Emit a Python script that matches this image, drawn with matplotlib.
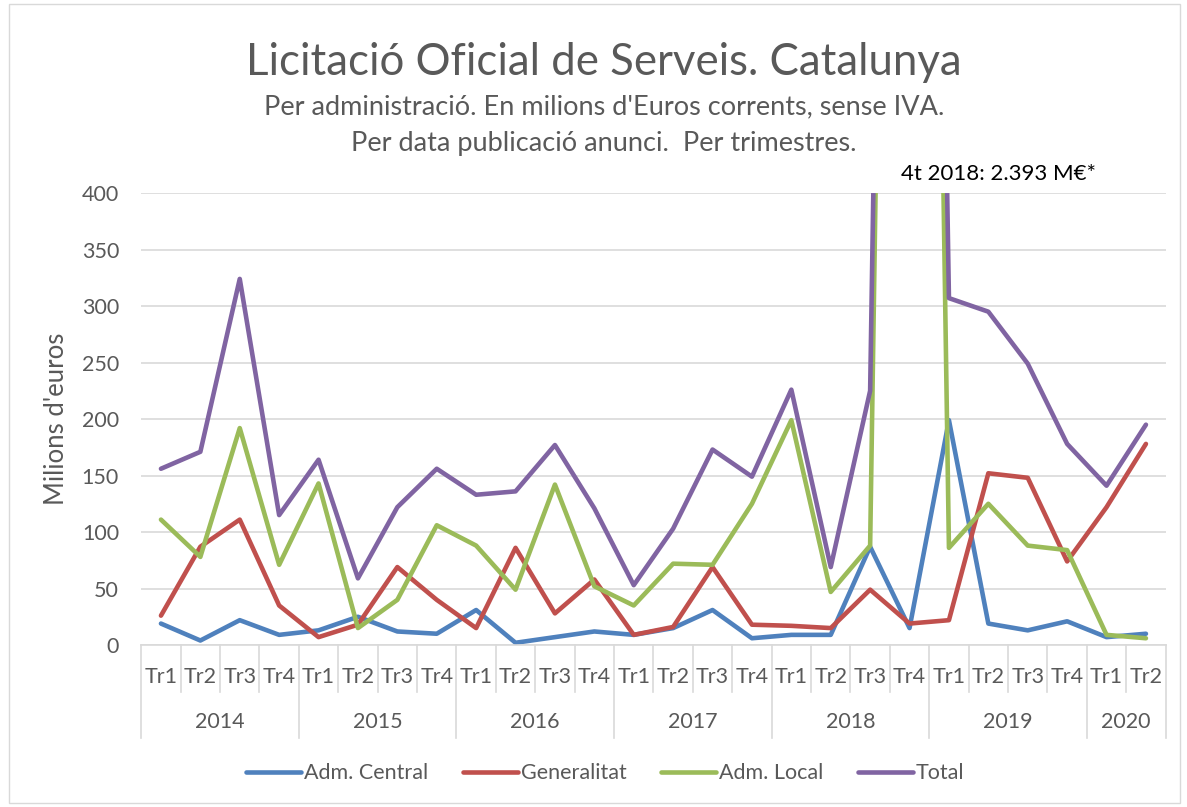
import numpy as np
import matplotlib
matplotlib.use('Agg')
import matplotlib.pyplot as plt
from matplotlib.patches import Rectangle

plt.rcParams['font.family'] = ['Lato', 'DejaVu Sans']

years = ['2014', '2015', '2016', '2017', '2018', '2019', '2020']
quarters_per_year = [4, 4, 4, 4, 4, 4, 2]
quarter_labels = ['Tr1', 'Tr2', 'Tr3', 'Tr4'] * 6 + ['Tr1', 'Tr2']

central = [19, 4, 22, 9, 13, 25, 12, 10, 31, 2, 7, 12, 9, 15, 31, 6,
           9, 9, 87, 15, 199, 19, 13, 21, 7, 10]
generalitat = [26, 87, 111, 35, 7, 18, 69, 40, 15, 86, 28, 58, 9, 16, 69, 18,
               17, 15, 49, 19, 22, 152, 148, 74, 122, 178]
local = [111, 78, 192, 71, 143, 15, 40, 106, 88, 49, 142, 52, 35, 72, 71, 125,
         199, 47, 88, 2360, 86, 125, 88, 84, 9, 6]
total = [156, 171, 324, 115, 164, 59, 122, 156, 133, 136, 177, 121, 53, 103, 173, 149,
         226, 69, 225, 2393, 307, 295, 249, 178, 141, 195]

series = [('Adm. Central', central, '#4F81BD'),
          ('Generalitat', generalitat, '#C0504D'),
          ('Adm. Local', local, '#9BBB59'),
          ('Total', total, '#8064A2')]

grey = '#595959'
grid_c = '#D9D9D9'

fig = plt.figure(figsize=(11.87, 8.07), dpi=100)
fig.patches.append(Rectangle((0.008, 0.005), 0.986, 0.99, transform=fig.transFigure,
                             fill=False, edgecolor=grid_c, lw=1))
ax = fig.add_axes([0.119, 0.2007, 0.863, 0.5601])

x = np.arange(len(total))
for name, vals, col in series:
    ax.plot(x, vals, color=col, lw=3.3, label=name, solid_joinstyle='round',
            solid_capstyle='round')

ax.set_xlim(-0.5, len(total) - 0.5)
ax.set_ylim(0, 400)
ax.set_yticks(range(0, 401, 50))
ax.yaxis.grid(True, color=grid_c, lw=1.2)
ax.set_axisbelow(True)
for s in ['top', 'right', 'left']:
    ax.spines[s].set_visible(False)
ax.spines['bottom'].set_color(grid_c)
ax.spines['bottom'].set_linewidth(1.2)
ax.tick_params(axis='y', length=0, labelsize=15.5, labelcolor=grey, pad=16)
ax.set_xticks([])
ax.set_ylabel("Milions d'euros", fontsize=18.5, color=grey, labelpad=9)

# two-level category axis
trans = ax.get_xaxis_transform()
for i, lab in enumerate(quarter_labels):
    ax.text(i, -0.071, lab, transform=trans, ha='center', va='center',
            fontsize=15.5, color=grey)
bounds = np.cumsum([0] + quarters_per_year) - 0.5
for i in range(len(total) + 1):
    xb = i - 0.5
    y_end = -0.206 if xb in bounds else -0.104
    ax.plot([xb, xb], [0, y_end], transform=trans, color=grid_c, lw=1.2, clip_on=False)
for k, yr in enumerate(years):
    mid = (bounds[k] + bounds[k + 1]) / 2
    ax.text(mid, -0.170, yr, transform=trans, ha='center', va='center',
            fontsize=15.5, color=grey)

fig.text(0.509, 0.922, 'Licitació Oficial de Serveis. Catalunya', ha='center', va='center',
         fontsize=31.5, color=grey)
fig.text(0.509, 0.868, "Per administració. En milions d'Euros corrents, sense IVA.",
         ha='center', va='center', fontsize=19.5, color=grey)
fig.text(0.509, 0.822, 'Per data publicació anunci.  Per trimestres.',
         ha='center', va='center', fontsize=19.5, color=grey)
ax.text(21.25, 1.042, '4t 2018: 2.393 M€*', transform=trans, ha='center', va='center',
        fontsize=16, color='black')

fig.legend(loc='center', bbox_to_anchor=(0.51, 0.042), ncol=4, frameon=False,
           fontsize=15.5, handlelength=2.55, columnspacing=1.6, handletextpad=0.15,
           labelcolor=grey)

fig.savefig('out.png', dpi=100)
